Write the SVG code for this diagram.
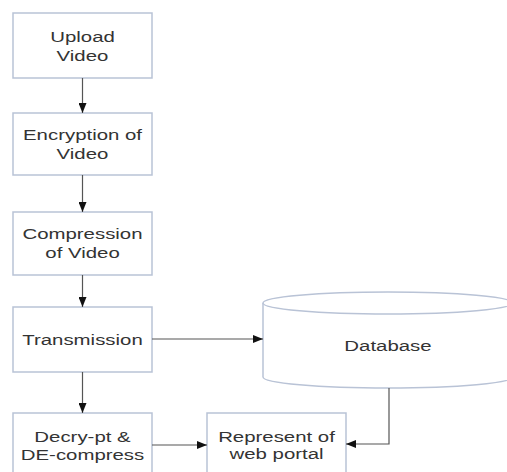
<svg xmlns="http://www.w3.org/2000/svg" width="507" height="472" viewBox="0 0 507 472">
<defs>
<marker id="ah" markerWidth="10" markerHeight="8" refX="10" refY="4" orient="auto" markerUnits="userSpaceOnUse">
<path d="M0,0 L10,4 L0,8 Z" fill="#111"/>
</marker>
<style>
.box{fill:#fff;stroke:#b9c3d6;stroke-width:1.5}
.t{font-family:"Liberation Sans",Arial,sans-serif;font-size:15px;fill:#333;text-anchor:middle}
.c{fill:none;stroke:#555;stroke-width:1.2}
</style>
</defs>
<rect width="507" height="472" fill="#fff"/>
<g id="upload">
<rect class="box" x="13" y="13" width="139" height="65"/>
<text class="t" transform="translate(82.5,42) scale(1.36,1)">Upload</text>
<text class="t" transform="translate(82.5,61) scale(1.36,1)">Video</text>
</g>
<g id="encrypt">
<rect class="box" x="13" y="113" width="139" height="62"/>
<text class="t" transform="translate(82.5,140) scale(1.36,1)">Encryption of</text>
<text class="t" transform="translate(82.5,159) scale(1.36,1)">Video</text>
</g>
<g id="compress">
<rect class="box" x="13" y="212" width="139" height="63"/>
<text class="t" transform="translate(82.5,239) scale(1.36,1)">Compression</text>
<text class="t" transform="translate(82.5,258) scale(1.36,1)">of Video</text>
</g>
<g id="transmission">
<rect class="box" x="13" y="307" width="139" height="65"/>
<text class="t" transform="translate(82.5,345) scale(1.36,1)">Transmission</text>
</g>
<g id="decrypt">
<rect class="box" x="13" y="413" width="139" height="65"/>
<text class="t" transform="translate(82.5,442) scale(1.36,1)">Decry-pt &amp;</text>
<text class="t" transform="translate(82.5,460) scale(1.36,1)">DE-compress</text>
</g>
<g id="represent">
<rect class="box" x="207" y="413" width="139" height="65"/>
<text class="t" transform="translate(276.5,442) scale(1.36,1)">Represent of</text>
<text class="t" transform="translate(276.5,459) scale(1.36,1)">web portal</text>
</g>
<g id="database">
<path d="M263,303 L263,377 A125,11 0 0 0 513,377 L513,303" fill="#fff" stroke="#b9c3d6" stroke-width="1.5"/>
<ellipse cx="388" cy="303" rx="125" ry="11" fill="#fff" stroke="#b9c3d6" stroke-width="1.5"/>
<text class="t" transform="translate(388,351) scale(1.36,1)">Database</text>
</g>
<g id="connectors">
<line class="c" x1="82.5" y1="78" x2="82.5" y2="113" marker-end="url(#ah)"/>
<line class="c" x1="82.5" y1="175" x2="82.5" y2="212" marker-end="url(#ah)"/>
<line class="c" x1="82.5" y1="275" x2="82.5" y2="307" marker-end="url(#ah)"/>
<line class="c" x1="82.5" y1="372" x2="82.5" y2="413" marker-end="url(#ah)"/>
<line class="c" x1="152" y1="339" x2="263" y2="339" marker-end="url(#ah)"/>
<line class="c" x1="152" y1="445" x2="207" y2="445" marker-end="url(#ah)"/>
<polyline class="c" points="389,388 389,444 346,444" marker-end="url(#ah)"/>
</g>
</svg>
